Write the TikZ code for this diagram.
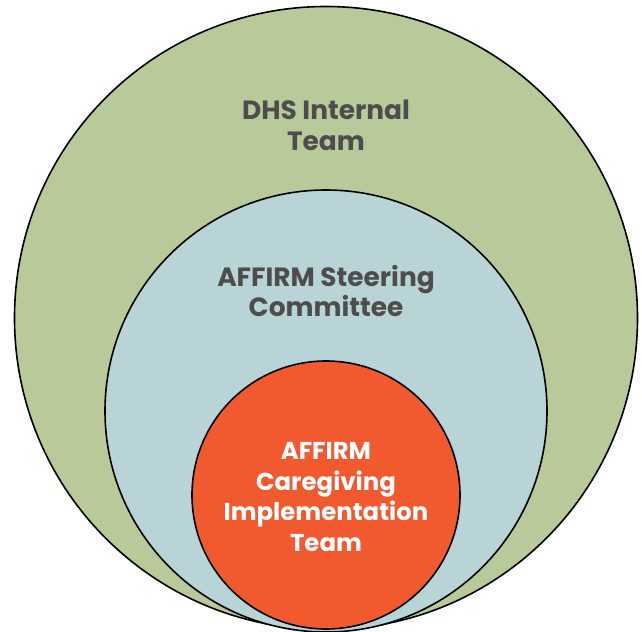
\documentclass[tikz,border=0pt]{standalone}
\usepackage{fontspec}
\setmainfont{Poppins}
\usepackage{tikz}
\usetikzlibrary{positioning}

\definecolor{dhsgreen}{HTML}{B8C99A}
\definecolor{steerblue}{HTML}{B9D4D6}
\definecolor{teamorange}{HTML}{F15A2F}
\definecolor{labelgray}{HTML}{4D4D4D}

\begin{document}
\begin{tikzpicture}[x=1bp,y=-1bp,
	ring/.style={circle,draw=black,line width=1.6bp,inner sep=0pt},
	ringlabel/.style={align=center,font=\fontsize{26.5}{31}\selectfont\bfseries,text=labelgray}]
	\useasboundingbox (0,0) rectangle (642,632);
	\node [ring,fill=dhsgreen,minimum size=623bp] (dhs) at (326,318) {};
	\node [ring,fill=steerblue,minimum size=442bp] (steering) at (326,411) {};
	\node [ring,fill=teamorange,minimum size=268bp] (caregiving) at (326,495) {};
	\node [ringlabel] (dhslabel) at (326,125) {DHS Internal\\Team};
	\node [ringlabel] (steeringlabel) at (326,291) {AFFIRM Steering\\Committee};
	\node [ringlabel,text=white,font=\fontsize{24.5}{31}\selectfont\bfseries] (caregivinglabel) at (326,497) {AFFIRM\\Caregiving\\Implementation\\Team};
\end{tikzpicture}
\end{document}
